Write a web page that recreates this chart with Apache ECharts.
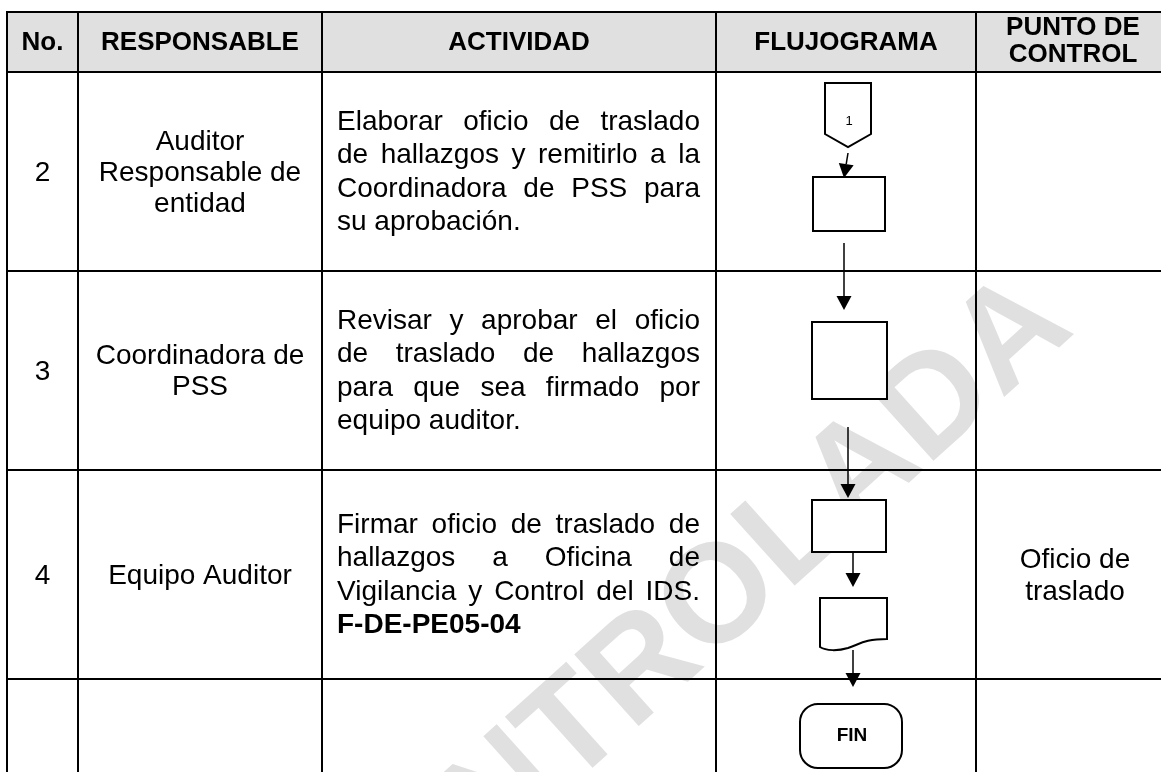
<!DOCTYPE html>
<html><head><meta charset="utf-8">
<script src="https://cdn.jsdelivr.net/npm/echarts@6/dist/echarts.min.js"></script>
<style>html,body{margin:0;padding:0;background:#fff}#c{width:1161px;height:772px}</style>
</head><body><div id="c"></div>
<script>
// ---------- data ----------
const headers = ['No.', 'RESPONSABLE', 'ACTIVIDAD', 'FLUJOGRAMA', 'PUNTO DE\nCONTROL'];
const numbers = ['2', '3', '4', ''];
const responsables = ['Auditor\nResponsable de\nentidad', 'Coordinadora de\nPSS', 'Equipo Auditor', ''];
const actividades = [
  [['Elaborar oficio de traslado', 'de hallazgos y remitirlo a la', 'Coordinadora de PSS para', 'su aprobación.']],
  [['Revisar y aprobar el oficio', 'de traslado de hallazgos', 'para que sea firmado por', 'equipo auditor.']],
  [['Firmar oficio de traslado de', 'hallazgos a Oficina de', 'Vigilancia y Control del IDS.', 'F-DE-PE05-04']],
  []
];
const boldLines = ['F-DE-PE05-04'];
const controles = ['', '', 'Oficio de\ntraslado', ''];
const flowNodes = ['connector', 'process', 'process', 'process', 'document', 'terminal'];
const flowLabels = ['1', '', '', '', '', 'FIN'];
const flowEdges = [[0, 1], [1, 2], [2, 3], [3, 4], [4, 5]];
const watermarkText = 'CONTROLADA';

// ---------- layout ----------
const FONT = '"Liberation Sans", Arial, sans-serif';
const colEdges = [7, 78, 322, 716, 976, 1190];
const rowEdges = [12, 72, 271, 470, 679, 800];
const bodySize = 28, headSize = 26, actLine = 33.5, respLine = 31;
const actLeft = 337, actRight = 700;
const nodeBoxes = [[825, 83, 871, 147], [813, 177, 885, 231], [812, 322, 887, 399], [812, 500, 886, 552], [820, 598, 887, 650], [800, 704, 902, 768]];
const edgeLines = [[848, 153, 844, 178], [844, 243, 844, 310], [848, 427, 848, 498], [853, 552, 853, 587], [853, 650, 853, 687]];
const wmAngle = 42;

const mctx = document.createElement('canvas').getContext('2d');
function tw(t, size, weight) { mctx.font = (weight || 'normal') + ' ' + size + 'px "Liberation Sans"'; return mctx.measureText(t).width; }

// hatch texture for the watermark (grid, kept axis-aligned on screen)
let wmFill = '#dcdcdc';
try {
  const tile = document.createElement('canvas'); tile.width = 7; tile.height = 7;
  const tc = tile.getContext('2d');
  tc.fillStyle = '#e8e8e8'; tc.fillRect(0, 0, 7, 7);
  tc.fillStyle = '#c6c6c6'; tc.fillRect(0, 0, 7, 1); tc.fillRect(0, 0, 1, 7);
  const pat = mctx.createPattern(tile, 'repeat');
  if (pat && pat.setTransform && window.DOMMatrix) {
    pat.setTransform(new DOMMatrix().rotate(wmAngle));
    wmFill = pat;
  }
} catch (e) { wmFill = '#dcdcdc'; }

// derived word placements for justified activity text
const words = [];
actividades.forEach((paras, r) => {
  const lines = [];
  paras.forEach(p => p.forEach((l, li) => lines.push({ text: l, bold: boldLines.indexOf(l) >= 0, last: li === p.length - 1 })));
  const cy = (rowEdges[r + 1] + rowEdges[r + 2]) / 2 + 1;
  lines.forEach((ln, i) => {
    const y = cy + (i - (lines.length - 1) / 2) * actLine;
    const wt = ln.bold ? 'bold' : 'normal';
    const ws = ln.text.split(' ');
    if (ln.last || ws.length < 2) {
      words.push({ text: ln.text, x: actLeft, y, bold: ln.bold });
    } else {
      const widths = ws.map(w => tw(w, bodySize, wt));
      const tot = widths.reduce((a, b) => a + b, 0);
      const gap = (actRight - actLeft - tot) / (ws.length - 1);
      let x = actLeft;
      ws.forEach((w, k) => { words.push({ text: w, x, y, bold: ln.bold }); x += widths[k] + gap; });
    }
  });
});

const chart = echarts.init(document.getElementById('c'), null, { renderer: 'canvas' });
const idx = n => Array.from({ length: n }, (_, i) => [i]);

function txt(api, x, y, text, opt) {
  const p = api.coord([x, y]);
  return {
    type: 'text', x: p[0], y: p[1], z2: 10,
    style: Object.assign({ text, fill: '#000', fontFamily: FONT, fontSize: bodySize, fontWeight: 'normal', align: 'center', verticalAlign: 'middle' }, opt || {})
  };
}

const cellTexts = [];
for (let r = 0; r < 4; r++) {
  cellTexts.push({ c: 0, r, t: numbers[r] });
  cellTexts.push({ c: 1, r, t: responsables[r] });
  cellTexts.push({ c: 4, r, t: controles[r] });
}

const option = {
  animation: false,
  grid: { left: 0, right: 0, top: 0, bottom: 0 },
  xAxis: { type: 'value', min: 0, max: 1161, show: false },
  yAxis: { type: 'value', min: 0, max: 772, inverse: true, show: false },
  series: [
    { // header background
      type: 'custom', data: idx(1), clip: false, z: 1,
      renderItem: (params, api) => {
        const a = api.coord([colEdges[0], rowEdges[0]]), b = api.coord([1161, rowEdges[1]]);
        return { type: 'rect', shape: { x: a[0], y: a[1], width: b[0] - a[0], height: b[1] - a[1] }, style: { fill: '#e0e0e0' } };
      }
    },
    { // watermark
      type: 'custom', data: [[0]], clip: false, z: 2,
      renderItem: (params, api) => {
        const p = api.coord([681, 636]);
        return { type: 'text', x: p[0], y: p[1], rotation: wmAngle * Math.PI / 180,
          style: { text: watermarkText, fill: wmFill, fontFamily: FONT, fontWeight: 'bold', fontSize: 140, align: 'center', verticalAlign: 'middle' } };
      }
    },
    { // table lines
      type: 'custom', data: idx(5 + 5), clip: false, z: 3,
      renderItem: (params, api) => {
        const i = params.dataIndex;
        let a, b;
        if (i < 5) { a = api.coord([colEdges[0] - 1, rowEdges[i]]); b = api.coord([1161, rowEdges[i]]); }
        else { const c = colEdges[i - 5]; a = api.coord([c, rowEdges[0] - 1]); b = api.coord([c, 772]); }
        return { type: 'line', shape: { x1: a[0], y1: a[1], x2: b[0], y2: b[1] }, style: { stroke: '#000', lineWidth: 2 } };
      }
    },
    { // header texts
      type: 'custom', data: idx(headers.length), clip: false, z: 4,
      renderItem: (params, api) => {
        const i = params.dataIndex;
        let cx = (colEdges[i] + colEdges[i + 1]) / 2;
        if (i === 4) cx = 1073;
        return txt(api, cx, (rowEdges[0] + rowEdges[1]) / 2 + (i === 4 ? -0.5 : 1), headers[i], { fontWeight: 'bold', fontSize: headSize, lineHeight: 26.5 });
      }
    },
    { // cell texts (No., responsable, control)
      type: 'custom', data: idx(cellTexts.length), clip: false, z: 4,
      renderItem: (params, api) => {
        const d = cellTexts[params.dataIndex];
        let cx = (colEdges[d.c] + colEdges[d.c + 1]) / 2;
        if (d.c === 4) cx = 1075;
        const cy = (rowEdges[d.r + 1] + rowEdges[d.r + 2]) / 2 + 1.5;
        return txt(api, cx, cy, d.t, { lineHeight: d.c === 4 ? 32 : respLine });
      }
    },
    { // activity words
      type: 'custom', data: idx(words.length), clip: false, z: 4,
      renderItem: (params, api) => {
        const w = words[params.dataIndex];
        return txt(api, w.x, w.y, w.text, { align: 'left', fontWeight: w.bold ? 'bold' : 'normal' });
      }
    },
    { // flow edges
      type: 'custom', data: idx(flowEdges.length), clip: false, z: 5,
      renderItem: (params, api) => {
        const e = edgeLines[params.dataIndex];
        const a = api.coord([e[0], e[1]]), b = api.coord([e[2], e[3]]);
        const dx = b[0] - a[0], dy = b[1] - a[1], L = Math.hypot(dx, dy), ux = dx / L, uy = dy / L;
        const hl = 14, hw = 7.5;
        const bx = b[0] - ux * hl, by = b[1] - uy * hl;
        return { type: 'group', children: [
          { type: 'line', shape: { x1: a[0], y1: a[1], x2: bx, y2: by }, style: { stroke: '#000', lineWidth: 1.5 } },
          { type: 'polygon', shape: { points: [[b[0], b[1]], [bx - uy * hw, by + ux * hw], [bx + uy * hw, by - ux * hw]] }, style: { fill: '#000' } }
        ] };
      }
    },
    { // flow nodes
      type: 'custom', data: idx(flowNodes.length), clip: false, z: 6,
      renderItem: (params, api) => {
        const i = params.dataIndex, kind = flowNodes[i], bx = nodeBoxes[i];
        const a = api.coord([bx[0], bx[1]]), b = api.coord([bx[2], bx[3]]);
        const x0 = a[0], y0 = a[1], x1 = b[0], y1 = b[1], w = x1 - x0, h = y1 - y0, cx = (x0 + x1) / 2;
        const st = { fill: '#fff', stroke: '#000', lineWidth: 2 };
        const children = [];
        if (kind === 'connector') {
          const yb = y1 - 13;
          children.push({ type: 'polygon', shape: { points: [[x0, y0], [x1, y0], [x1, yb], [cx, y1], [x0, yb]] }, style: st });
          children.push({ type: 'text', x: cx + 1, y: y0 + 38, style: { text: flowLabels[i], fill: '#000', fontFamily: FONT, fontSize: 13, align: 'center', verticalAlign: 'middle' } });
        } else if (kind === 'process') {
          children.push({ type: 'rect', shape: { x: x0, y: y0, width: w, height: h }, style: st });
        } else if (kind === 'document') {
          const d = `M${x0},${y0} L${x1},${y0} L${x1},${y1 - 11} C${x1 - 22},${y1 - 11} ${x0 + 40},${y1 - 6} ${x0 + 28},${y1 - 2} C${x0 + 18},${y1 + 1} ${x0 + 6},${y1 + 1} ${x0},${y1 - 3} Z`;
          children.push({ type: 'path', shape: { pathData: d }, style: st });
        } else if (kind === 'terminal') {
          children.push({ type: 'rect', shape: { x: x0, y: y0, width: w, height: h, r: 18 }, style: st });
          children.push({ type: 'text', x: cx + 1, y: (y0 + y1) / 2, style: { text: flowLabels[i], fill: '#000', fontFamily: FONT, fontSize: 19, fontWeight: 'bold', align: 'center', verticalAlign: 'middle' } });
        }
        return { type: 'group', children };
      }
    }
  ]
};
chart.setOption(option);
</script></body></html>
